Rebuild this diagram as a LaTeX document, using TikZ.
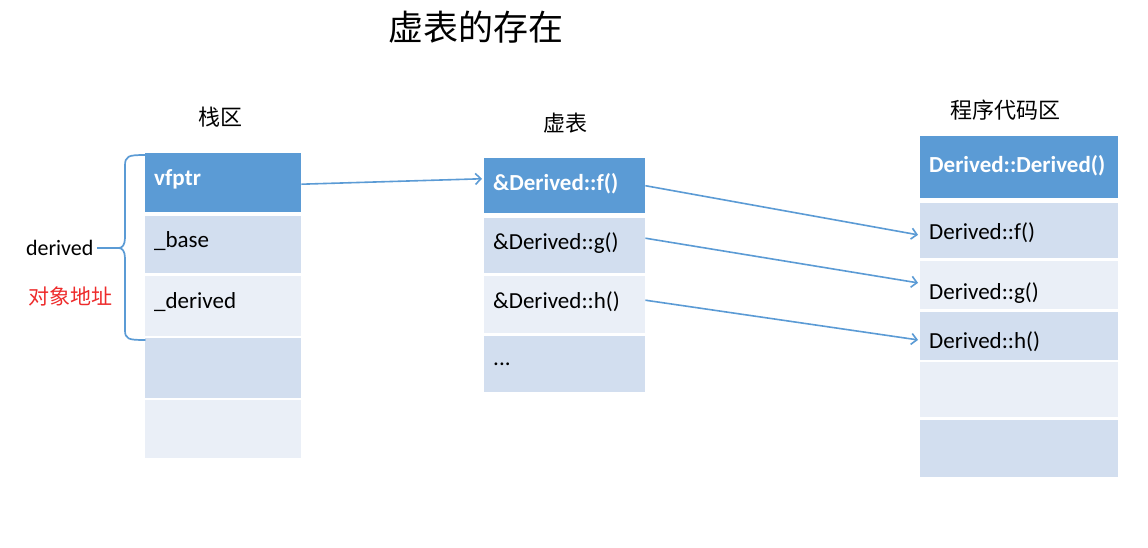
\documentclass[tikz,border=0pt]{standalone}
\usepackage{fontspec}
\setmainfont{Carlito}
\newfontfamily\cjk{Noto Sans CJK SC}
\usetikzlibrary{arrows.meta}
\definecolor{hdr}{HTML}{5B9BD5}
\definecolor{rowa}{HTML}{D2DEEF}
\definecolor{rowb}{HTML}{EAEFF7}
\definecolor{linec}{HTML}{5B9BD5}
\definecolor{redtxt}{HTML}{EE2B2B}
\tikzset{
  cellbase/.style={anchor=north west, inner xsep=9pt, inner ysep=0pt, align=left,
    font=\fontsize{23}{27}\selectfont},
  lcell/.style={cellbase, text width=138pt},
  mcell/.style={cellbase, text width=143pt},
  rcell/.style={cellbase, text width=180pt},
  hdrcell/.style={fill=hdr, text=white, font=\fontsize{23}{27}\selectfont\bfseries},
  acell/.style={fill=rowa},
  bcell/.style={fill=rowb},
  collabel/.style={font=\cjk\fontsize{22}{26}\selectfont},
  ptr/.style={draw=linec, line width=1.6pt, -{Straight Barb[length=5.5pt,width=11pt]}, shorten >=2pt},
  bracestyle/.style={draw=linec, line width=1.7pt, line cap=round, line join=round}
}
\newcommand{\shiftdown}[2]{\raisebox{-#1}[\height][\depth]{#2}}
\begin{document}
\begin{tikzpicture}[x=1pt,y=-1pt]
\useasboundingbox (0,0) rectangle (1148,547);
\fill[white] (0,0) rectangle (1148,547);
% title
\node[font=\cjk\fontsize{35}{40}\selectfont] (title) at (476,27) {虚表的存在};
% column labels
\node[collabel] (lblstack) at (220,117) {栈区};
\node[collabel] (lblvt) at (565,123) {虚表};
\node[collabel] (lblcode) at (1005,110) {程序代码区};
% left table
\node[lcell,hdrcell,minimum height=59pt] (vfptr) at (145,153) {\raisebox{10pt}{vfptr}};
\node[lcell,acell,minimum height=57pt] (base) at (145,216) {\raisebox{10pt}{\_base}};
\node[lcell,bcell,minimum height=60pt] (derv) at (145,276) {\raisebox{11pt}{\_derived}};
\node[lcell,acell,minimum height=60pt] (l4) at (145,338) {};
\node[lcell,bcell,minimum height=58pt] (l5) at (145,400) {};
% middle table
\node[mcell,hdrcell,minimum height=55pt] (vf) at (484,158) {\raisebox{7pt}{\&Derived::f()}};
\node[mcell,acell,minimum height=55pt] (vg) at (484,218) {\raisebox{10pt}{\&Derived::g()}};
\node[mcell,bcell,minimum height=57pt] (vh) at (484,276) {\raisebox{9pt}{\&Derived::h()}};
\node[mcell,acell,minimum height=56pt] (vdots) at (484,336) {...};
% right table
\node[rcell,hdrcell,minimum height=62pt] (ctor) at (920,136) {\raisebox{6pt}{Derived::Derived()}};
\node[rcell,acell,minimum height=55pt] (rf) at (920,203) {\shiftdown{2pt}{Derived::f()}};
\node[rcell,bcell,minimum height=48pt] (rg) at (920,261) {\shiftdown{8pt}{Derived::g()}};
\node[rcell,acell,minimum height=48pt] (rh) at (920,312) {\shiftdown{5pt}{Derived::h()}};
\node[rcell,bcell,minimum height=55pt] (r5) at (920,362) {};
\node[rcell,acell,minimum height=57pt] (r6) at (920,420) {};
% brace
\draw[bracestyle] (145,155) .. controls (128,155) and (125,156) .. (125,166)
  -- (125,238) .. controls (125,245) and (122,248) .. (119,248)
  .. controls (122,248) and (125,251) .. (125,258)
  -- (125,330) .. controls (125,339) and (128,340) .. (145,340);
\coordinate (bracetip) at (119,248);
\node[font=\fontsize{22}{26}\selectfont, anchor=east] (dlabel) at (97,248) {derived};
\draw[draw=linec, line width=1.7pt] (dlabel.east) -- (bracetip);
\node[font=\cjk\fontsize{21}{25}\selectfont, text=redtxt] (addr) at (70,296) {对象地址};
% pointers
\draw[ptr] ([yshift=-1.5pt]vfptr.east) -- ([yshift=7pt]vf.west);
\draw[ptr] (vf.east) -- ([yshift=-4.5pt]rf.west);
\draw[ptr] ([yshift=7.5pt]vg.east) -- ([yshift=2pt]rg.west);
\draw[ptr] ([yshift=4.5pt]vh.east) -- ([yshift=-4pt]rh.west);
\end{tikzpicture}
\end{document}
